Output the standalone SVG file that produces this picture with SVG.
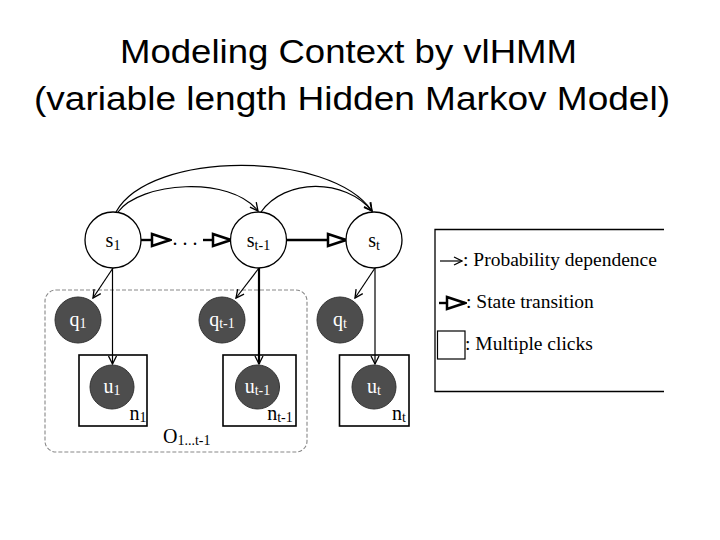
<svg xmlns="http://www.w3.org/2000/svg" width="720" height="540" viewBox="0 0 720 540">
<style>
.title{font-family:"Liberation Sans",Arial,sans-serif;font-size:34px;fill:#000}
.lbl{font-family:"Liberation Serif","Times New Roman",serif;font-size:20px;fill:#000;text-anchor:middle}
.wlbl{font-family:"Liberation Serif","Times New Roman",serif;font-size:20px;fill:#fff;text-anchor:middle}
.sub{font-size:14px}
.leg{font-family:"Liberation Serif","Times New Roman",serif;font-size:19.5px;fill:#000}
.state{fill:#fff;stroke:#000;stroke-width:1.3}
.obs{fill:#4d4d4d;stroke:#333;stroke-width:1}
.plate{fill:none;stroke:#000;stroke-width:1.6}
.dep{fill:none;stroke:#000;stroke-width:1.2;marker-end:url(#vhead)}
.dep2{fill:none;stroke:#000;stroke-width:2.2;marker-end:url(#vhead)}
.trans{fill:none;stroke:#000;stroke-width:2.4;marker-end:url(#tri)}
</style>
<defs>
<marker id="vhead" viewBox="0 0 10 10" refX="9" refY="5" markerWidth="10" markerHeight="10" markerUnits="userSpaceOnUse" orient="auto">
<path d="M1,1 L9,5 L1,9" fill="none" stroke="#000" stroke-width="1.3"/>
</marker>
<marker id="tri" viewBox="0 0 22 16" refX="20" refY="8" markerWidth="22" markerHeight="16" markerUnits="userSpaceOnUse" orient="auto">
<path d="M2,2 L20,8 L2,14 Z" fill="#fff" stroke="#000" stroke-width="2.5" stroke-linejoin="miter"/>
</marker>
</defs>
<rect width="720" height="540" fill="#fff"/>
<g id="title">
<text class="title" x="120" y="63" textLength="457" lengthAdjust="spacingAndGlyphs">Modeling Context by vlHMM</text>
<text class="title" x="34" y="110" textLength="636" lengthAdjust="spacingAndGlyphs">(variable length Hidden Markov Model)</text>
</g>
<g id="group-o">
<rect x="45" y="290" width="262" height="162" rx="11" fill="none" stroke="#888" stroke-width="1.1" stroke-dasharray="4,2"/>
<text class="lbl" x="163" y="443" style="text-anchor:start">O<tspan class="sub" dy="2">1...t-1</tspan></text>
</g>
<g id="connectors">
<path class="dep" d="M116,212 C150,150 330,150 372,211"/>
<path class="dep" d="M118,212 C140,182 230,175 258,211"/>
<path class="dep" d="M261,212 C285,178 345,178 372,211"/>
<line class="trans" x1="141" y1="240" x2="170" y2="240"/>
<line class="trans" x1="203" y1="240" x2="231" y2="240"/>
<line class="trans" x1="287" y1="240" x2="346" y2="240"/>
<line class="dep" x1="113" y1="268" x2="93" y2="298"/>
<line class="dep" x1="112.5" y1="268" x2="112.5" y2="364"/>
<line class="dep" x1="259" y1="268" x2="236" y2="298"/>
<line class="dep2" x1="259" y1="268" x2="259" y2="364"/>
<line class="dep" x1="375" y1="268" x2="355" y2="298"/>
<line class="dep" x1="375" y1="268" x2="375" y2="364"/>
</g>
<g id="dots">
<text class="lbl" x="185" y="245">. . .</text>
</g>
<g id="s1">
<circle class="state" cx="113" cy="240" r="28"/>
<text class="lbl" x="113" y="247">s<tspan class="sub" dy="3">1</tspan></text>
</g>
<g id="st-1">
<circle class="state" cx="258.5" cy="240" r="28"/>
<text class="lbl" x="258.5" y="247">s<tspan class="sub" dy="3">t-1</tspan></text>
</g>
<g id="st">
<circle class="state" cx="374" cy="240" r="28"/>
<text class="lbl" x="374" y="247">s<tspan class="sub" dy="3">t</tspan></text>
</g>
<g id="q1">
<circle class="obs" cx="78" cy="320" r="23"/>
<text class="wlbl" x="78" y="326">q<tspan class="sub" dy="2">1</tspan></text>
</g>
<g id="qt-1">
<circle class="obs" cx="222" cy="320" r="23"/>
<text class="wlbl" x="222" y="326">q<tspan class="sub" dy="2">t-1</tspan></text>
</g>
<g id="qt">
<circle class="obs" cx="340" cy="320" r="23"/>
<text class="wlbl" x="340" y="326">q<tspan class="sub" dy="2">t</tspan></text>
</g>
<g id="plate1">
<rect class="plate" x="79" y="355" width="68" height="71"/>
<circle class="obs" cx="112" cy="387" r="22"/>
<text class="wlbl" x="112" y="393">u<tspan class="sub" dy="2">1</tspan></text>
<text class="lbl" x="138" y="420">n<tspan class="sub" dy="2">1</tspan></text>
</g>
<g id="plate2">
<rect class="plate" x="223" y="355" width="73" height="71"/>
<circle class="obs" cx="257.5" cy="387" r="22"/>
<text class="wlbl" x="257.5" y="393">u<tspan class="sub" dy="2">t-1</tspan></text>
<text class="lbl" x="280" y="420">n<tspan class="sub" dy="2">t-1</tspan></text>
</g>
<g id="plate3">
<rect class="plate" x="339.5" y="355" width="69.5" height="71"/>
<circle class="obs" cx="374" cy="387" r="22"/>
<text class="wlbl" x="374" y="393">u<tspan class="sub" dy="2">t</tspan></text>
<text class="lbl" x="399" y="420">n<tspan class="sub" dy="2">t</tspan></text>
</g>
<g id="legend">
<path d="M664,229.5 L435,229.5 L435,391.5 L664,391.5" fill="none" stroke="#000" stroke-width="1.3"/>
<line x1="440" y1="261" x2="462" y2="261" stroke="#000" stroke-width="1.2" marker-end="url(#vhead)"/>
<text class="leg" x="463" y="266">: Probability dependence</text>
<line x1="439" y1="303" x2="465" y2="303" stroke="#000" stroke-width="2.4" marker-end="url(#tri)"/>
<text class="leg" x="466" y="308">: State transition</text>
<rect x="437.5" y="331" width="27.5" height="28" fill="none" stroke="#000" stroke-width="1.2"/>
<text class="leg" x="465" y="350">: Multiple clicks</text>
</g>
</svg>
